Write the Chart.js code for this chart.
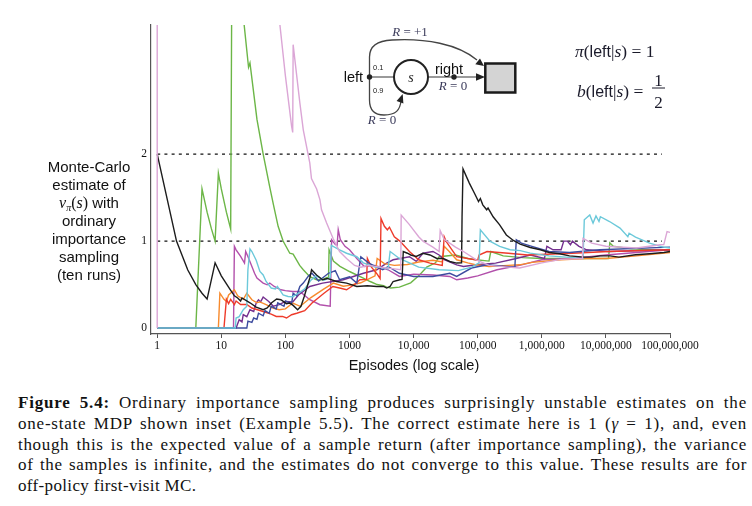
<!DOCTYPE html>
<html>
<head>
<meta charset="utf-8">
<script src="https://cdn.jsdelivr.net/npm/chart.js@4.4.1/dist/chart.umd.min.js"></script>
<style>
  html, body { margin:0; padding:0; background:#fff; }
  body { width:752px; height:506px; position:relative; overflow:hidden; }
  #c { position:absolute; left:0; top:0; }
  #ylabel { position:absolute; left:29px; width:120px; top:158px; text-align:center;
            font-family:"Liberation Sans", Arial, sans-serif; font-size:15px; line-height:18px; color:#111; }
  #ylabel div { height:18px; }
  #xlabel { position:absolute; left:314px; width:200px; top:356px; text-align:center;
            font-family:"Liberation Sans", Arial, sans-serif; font-size:14.5px; line-height:18px; color:#111; }
  .m { font-family:"Liberation Serif", "Times New Roman", serif; font-style:italic; }
  .r { font-family:"Liberation Serif", "Times New Roman", serif; }
  #caption { position:absolute; left:18px; top:393px; width:729px;
             font-family:"Liberation Serif", "Times New Roman", serif; font-size:17px; line-height:20.8px; color:#111; }
  .cl { white-space:nowrap; height:20.8px; }
</style>
</head>
<body>
<canvas id="c" width="752" height="370"></canvas>

<div id="ylabel">
  <div>Monte-Carlo</div>
  <div>estimate of</div>
  <div><span class="m" style="font-size:16px">v</span><span class="m" style="font-size:10px;position:relative;top:3px">π</span><span class="r" style="font-size:16px">(</span><span class="m" style="font-size:16px">s</span><span class="r" style="font-size:16px">)</span> with</div>
  <div>ordinary</div>
  <div>importance</div>
  <div>sampling</div>
  <div>(ten runs)</div>
</div>
<div id="xlabel">Episodes (log scale)</div>

<svg id="inset" width="752" height="370" style="position:absolute;left:0;top:0;pointer-events:none" xmlns="http://www.w3.org/2000/svg">
  <path d="M369.5,77 L369.5,57 Q369.5,41 392,40 C425,38 458,44 477,60" fill="none" stroke="#444" stroke-width="1.3"/>
  <polygon points="484,66 475.3,64.2 480,58.4" fill="#222"/>
  <path d="M369.5,77 L369.5,100 Q369.5,115 384,115 C396,115 400,110 401,101" fill="none" stroke="#444" stroke-width="1.3"/>
  <polygon points="402.7,94 403.4,103.4 396.6,100.9" fill="#222"/>
  <line x1="369.5" y1="77" x2="394" y2="77" stroke="#9a9a9a" stroke-width="2"/>
  <line x1="428" y1="77" x2="477" y2="77" stroke="#9a9a9a" stroke-width="2"/>
  <polygon points="485,77 476,73.3 476,80.7" fill="#222"/>
  <circle cx="369.5" cy="77" r="2.7" fill="#222"/>
  <circle cx="454" cy="77" r="2.7" fill="#222"/>
  <circle cx="411" cy="77" r="17" fill="#fff" stroke="#222" stroke-width="2"/>
  <text x="411" y="81.5" text-anchor="middle" font-family="Liberation Serif" font-style="italic" font-size="14" fill="#222">s</text>
  <rect x="485.3" y="63.5" width="30" height="29" fill="#d4d4d4" stroke="#1a1a1a" stroke-width="2.5"/>
  <text x="363" y="82" text-anchor="end" font-family="Liberation Sans" font-size="14.5" fill="#111">left</text>
  <text x="449" y="73.5" text-anchor="middle" font-family="Liberation Sans" font-size="14.5" fill="#111">right</text>
  <text x="373" y="70" font-family="Liberation Sans" font-size="7.5" fill="#222">0.1</text>
  <text x="373" y="93" font-family="Liberation Sans" font-size="7.5" fill="#222">0.9</text>
  <text x="410" y="36" text-anchor="middle" font-family="Liberation Serif" font-size="13" fill="#3a3a5a"><tspan font-style="italic">R</tspan> = +1</text>
  <text x="453" y="90" text-anchor="middle" font-family="Liberation Serif" font-size="13" fill="#3a3a5a"><tspan font-style="italic">R</tspan> = 0</text>
  <text x="382" y="124" text-anchor="middle" font-family="Liberation Serif" font-size="13" fill="#3a3a5a"><tspan font-style="italic">R</tspan> = 0</text>
  <text x="575" y="57" font-family="Liberation Serif" font-size="17.5" fill="#1a1a2a"><tspan font-style="italic">π</tspan>(<tspan font-family="Liberation Sans" font-size="16">left</tspan>|<tspan font-style="italic">s</tspan>) = 1</text>
  <text x="577" y="97" font-family="Liberation Serif" font-size="17.5" fill="#1a1a2a"><tspan font-style="italic">b</tspan>(<tspan font-family="Liberation Sans" font-size="16">left</tspan>|<tspan font-style="italic">s</tspan>) =</text>
  <text x="658.5" y="85.5" text-anchor="middle" font-family="Liberation Serif" font-size="17" fill="#1a1a2a">1</text>
  <line x1="652" y1="88" x2="665" y2="88" stroke="#1a1a2a" stroke-width="1"/>
  <text x="658.5" y="107.5" text-anchor="middle" font-family="Liberation Serif" font-size="17" fill="#1a1a2a">2</text>
</svg>

<div id="caption">
  <div class="cl j"><span><b>Figure 5.4:</b> Ordinary importance sampling produces surprisingly unstable estimates on the</span></div>
  <div class="cl j"><span>one-state MDP shown inset (Example 5.5). The correct estimate here is 1 (<i>γ</i> = 1), and, even</span></div>
  <div class="cl j"><span>though this is the expected value of a sample return (after importance sampling), the variance</span></div>
  <div class="cl j"><span>of the samples is infinite, and the estimates do not converge to this value. These results are for</span></div>
  <div class="cl"><span>off-policy first-visit MC.</span></div>
</div>

<script>
// ---------- data (episode, estimate) ----------
const xTickValues = [1, 10, 100, 1000, 10000, 100000, 1000000, 10000000, 100000000];
const xTickLabels = ["1", "10", "100", "1000", "10,000", "100,000", "1,000,000", "10,000,000", "100,000,000"];
const yTickValues = [0, 1, 2];
const yTickLabels = ["0", "1", "2"];
const referenceLevels = [1, 2];
const referenceSpan = [1, 75000000];

const black = [[1,2],[2,1],[3,0.667],[4,0.5],[5,0.4],[6,0.333],[8,0.75],[10,0.6],[13.6,0.448],[16,0.37],[18,0.345],[20,0.31],[21,0.345],[28,0.29],[35,0.24],[45,0.21],[52,0.23],[61,0.29],[73,0.333],[85,0.325],[104,0.28],[117,0.287],[132,0.26],[155,0.21],[175,0.25],[196,0.36],[240,0.575],[256,0.67],[306,0.61],[380,0.555],[450,0.57],[630,0.535],[900,0.517],[1300,0.478],[1900,0.486],[2660,0.478],[3380,0.478],[3800,0.46],[4300,0.478],[4790,0.535],[6100,0.555],[6600,0.56],[6900,0.88],[8000,0.86],[9000,0.84],[11000,0.823],[14000,0.86],[18000,0.84],[23000,0.8],[29000,0.8],[36700,0.765],[47000,0.747],[56000,0.75],[57000,1.28],[59000,1.83],[74000,1.667],[89000,1.55],[103000,1.455],[110000,1.49],[120000,1.417],[138000,1.36],[145000,1.38],[174000,1.28],[220000,1.187],[280000,1.07],[360000,1.007],[460000,0.966],[660000,0.926],[950000,0.9],[1300000,0.869],[1900000,0.854],[2700000,0.83],[4600000,0.816],[6000000,0.816],[8100000,0.83],[11500000,0.83],[16000000,0.816],[29000000,0.842],[48000000,0.854],[80000000,0.869],[100000000,0.88]];

const green = [[1,0],[4,0],[5,1.6],[6,1.333],[7,1.143],[8,1.0],[9,1.78],[10,1.6],[12,1.333],[14,1.14],[15,6],[20,4.1],[22.7,3.49],[26.6,3.0],[28,3.05],[36,2.4],[45,2.0],[57,1.62],[65,1.42],[77,1.17],[92,1.0],[117,0.86],[132,0.85],[167,0.72],[190,0.67],[240,0.59],[306,0.555],[380,0.555],[440,0.58],[470,0.57],[480,0.9],[560,0.77],[710,0.71],[1000,0.65],[1640,0.575],[2100,0.535],[2700,0.5],[3400,0.486],[3800,0.47],[4400,0.46],[6000,0.47],[9000,0.52],[12000,0.6],[16000,0.7],[22000,0.75],[25000,0.82],[45000,0.84],[70000,0.8],[95000,0.785],[150000,0.77],[160000,0.88],[250000,0.83],[500000,0.81],[1000000,0.8],[3000000,0.8],[6000000,0.8],[11000000,0.8],[11500000,0.98],[13000000,0.94],[25000000,0.91],[50000000,0.9],[100000000,0.89]];

const pink = [[1,0],[1,290],[40,7.25],[82,3.49],[100,2.9],[125,2.32],[130,2.25],[132,3.26],[168,2.59],[190,2.28],[240,1.9],[255,1.72],[307,1.6],[346,1.475],[366,1.36],[438,1.21],[555,1.03],[700,0.88],[900,0.8],[1200,0.72],[1500,0.7],[2000,0.72],[3000,0.7],[5000,0.68],[6300,0.67],[6400,1.3],[8600,1.19],[12000,1.05],[14000,1.0],[20000,0.93],[25000,0.88],[26000,1.12],[30000,1.02],[45000,0.93],[60000,0.88],[95000,0.785],[150000,0.72],[300000,0.7],[450000,0.69],[1000000,0.75],[2000000,0.79],[4300000,0.8],[4400000,1.03],[6000000,0.977],[10000000,0.94],[30000000,0.92],[70000000,0.957],[80000000,0.96],[90000000,1.11],[100000000,1.1]];

const red = [[1,0],[11,0],[12,0.33],[13,0.28],[14,0.33],[16,0.27],[17,0.31],[20,0.27],[25,0.27],[30,0.23],[45,0.19],[60,0.16],[72,0.133],[90,0.133],[104,0.115],[125,0.153],[150,0.17],[200,0.2],[260,0.287],[400,0.4],[550,0.478],[700,0.46],[900,0.44],[1200,0.5],[1450,0.555],[1850,0.56],[1900,0.8],[2200,0.7],[2700,0.62],[3000,0.57],[3100,1.26],[3500,1.17],[3900,1.13],[4200,1.16],[5000,1.05],[6100,1.0],[6900,0.957],[8600,0.88],[12000,0.785],[18000,0.747],[28000,0.72],[30000,1.05],[32000,1.0],[38000,0.92],[47000,0.82],[70000,0.8],[100000,0.78],[105000,0.84],[140000,0.88],[300000,0.86],[600000,0.84],[3000000,0.86],[11000000,0.88],[100000000,0.9]];

const orange = [[1,0],[9,0],[9.5,0.4],[11,0.33],[12,0.306],[13,0.38],[16,0.44],[18,0.37],[22,0.33],[25,0.4],[30,0.325],[36,0.29],[40,0.3],[50,0.27],[64,0.23],[80,0.21],[100,0.22],[130,0.287],[170,0.25],[250,0.35],[400,0.45],[560,0.517],[800,0.48],[1000,0.49],[1500,0.52],[2500,0.6],[2700,0.8],[3500,0.74],[5000,0.72],[8000,0.73],[12000,0.76],[20000,0.78],[28000,0.76],[30000,0.94],[36000,0.88],[47000,0.785],[70000,0.75],[95000,0.727],[150000,0.708],[300000,0.72],[450000,0.727],[700000,0.755],[2000000,0.785],[5000000,0.8],[10000000,0.8],[30000000,0.83],[100000000,0.869]];

const cyan = [[1,0],[16.5,0],[17,0.115],[19,0.13],[22,0.21],[25,0.25],[26,0.67],[28,0.91],[30,0.88],[35,0.78],[40,0.65],[45,0.61],[50,0.535],[60,0.46],[70,0.45],[75,0.478],[92,0.38],[110,0.363],[130,0.36],[160,0.4],[200,0.45],[250,0.55],[300,0.6],[400,0.55],[500,0.58],[520,0.95],[700,0.9],[900,0.86],[1300,0.82],[1640,0.75],[2500,0.7],[3000,0.7],[4000,0.68],[4300,0.88],[6000,0.8],[8600,0.75],[12000,0.7],[25000,0.67],[50000,0.66],[80000,0.7],[105000,0.75],[110000,1.13],[155000,1.0],[220000,0.94],[320000,0.9],[460000,0.89],[660000,0.862],[1300000,0.83],[2400000,0.816],[4400000,0.8],[4600000,1.245],[5600000,1.3],[6300000,1.207],[7000000,1.29],[7800000,1.225],[8200000,1.28],[11400000,1.225],[16600000,1.15],[22000000,1.05],[23000000,1.09],[29000000,1.046],[48000000,0.977],[79000000,0.93],[100000000,0.92]];

const blue = [[1,0],[25,0],[26,0.08],[30,0.065],[32,0.115],[36,0.1],[38,0.17],[45,0.14],[48,0.2],[56,0.17],[60,0.25],[72,0.22],[76,0.29],[95,0.25],[100,0.31],[125,0.28],[132,0.4],[150,0.37],[168,0.478],[190,0.517],[230,0.6],[260,0.63],[330,0.54],[470,0.63],[600,0.66],[700,0.555],[1000,0.59],[1300,0.517],[1500,0.82],[2000,0.747],[3300,0.67],[4000,0.708],[6000,0.63],[10000,0.593],[20000,0.593],[36700,0.63],[47000,0.593],[80000,0.69],[140000,0.727],[380000,0.7],[400000,1.015],[480000,0.977],[700000,0.94],[1300000,0.88],[2700000,0.869],[8000000,0.9],[100000000,0.93]];

const purple = [[1,0],[17,0],[19,0.095],[21,0.07],[22,0.153],[25,0.13],[28,0.21],[32,0.19],[35,0.287],[38,0.325],[41,0.3],[45,0.356],[55,0.306],[65,0.25],[80,0.268],[100,0.306],[130,0.3],[160,0.38],[240,0.478],[380,0.517],[800,0.555],[1650,0.63],[2660,0.67],[3800,0.747],[4800,0.785],[8600,0.82],[11000,0.766],[14000,0.86],[20000,0.88],[25000,0.84],[30000,0.785],[47000,0.727],[60000,0.708],[95000,0.727],[190000,0.747],[400000,0.8],[660000,0.84],[1100000,0.8],[1200000,0.94],[1500000,0.9],[2000000,0.9],[2200000,1.0],[2500000,1.0],[2800000,0.957],[3000000,1.0],[3800000,0.94],[5000000,0.9],[11000000,0.88],[100000000,0.9]];

const magenta = [[1,0],[15.5,0],[16,0.94],[17,0.9],[20,0.823],[23,0.747],[24,0.88],[26,0.823],[30,0.708],[33,0.63],[36,0.575],[45,0.517],[52,0.497],[57,0.517],[67,0.478],[85,0.44],[100,0.43],[130,0.42],[168,0.42],[240,0.325],[346,0.268],[500,0.25],[526,1.015],[600,0.96],[640,0.95],[667,1.13],[720,1.015],[850,0.94],[1000,0.9],[1300,0.8],[1700,0.708],[2500,0.72],[4000,0.67],[6000,0.593],[10000,0.62],[20000,0.61],[36700,0.593],[47000,0.555],[70000,0.575],[100000,0.6],[200000,0.67],[450000,0.72],[1000000,0.785],[3000000,0.8],[10000000,0.84],[100000000,0.9]];

// ---------- chart ----------
const runs = [
  { name: 'run 9', data: pink,    color: '#dba6d6' },
  { name: 'run 1', data: black,   color: '#1c1c1c' },
  { name: 'run 2', data: cyan,    color: '#6cc9da' },
  { name: 'run 3', data: blue,    color: '#3d4c9f' },
  { name: 'run 4', data: red,     color: '#ee3b2b' },
  { name: 'run 5', data: orange,  color: '#f78a2d' },
  { name: 'run 6', data: purple,  color: '#74308f' },
  { name: 'run 7', data: magenta, color: '#b250ab' },
  { name: 'run 8', data: green,   color: '#6cb647' }
];

const toPts = arr => arr.map(([x, y]) => ({ x, y }));
const datasets = runs.map(r => ({
  label: r.name, data: toPts(r.data), borderColor: r.color, backgroundColor: r.color,
  borderWidth: 1.4, pointRadius: 0, showLine: true, fill: false, tension: 0
}));
referenceLevels.forEach(level => {
  datasets.push({
    label: 'ref ' + level,
    data: referenceSpan.map(x => ({ x, y: level })),
    borderColor: '#111', borderWidth: 1.1, borderDash: [3, 4.2],
    pointRadius: 0, showLine: true, fill: false
  });
});

new Chart(document.getElementById('c'), {
  type: 'scatter',
  data: { datasets },
  options: {
    responsive: false, devicePixelRatio: 1, animation: false,
    layout: { padding: { top: 25, right: 82, bottom: 0, left: 0 } },
    plugins: { legend: { display: false }, tooltip: { enabled: false } },
    scales: {
      x: {
        type: 'logarithmic', min: 0.8, max: 100000000,
        afterBuildTicks: s => { s.ticks = xTickValues.map(v => ({ value: v })); },
        afterFit: s => { s.height = 36; },
        ticks: {
          autoSkip: false, maxRotation: 0, minRotation: 0, padding: 1,
          color: '#111', font: { family: 'Liberation Serif', size: 11.5 },
          callback: v => { const i = xTickValues.indexOf(v); return i >= 0 ? xTickLabels[i] : ''; }
        },
        grid: { display: true, drawOnChartArea: false, drawTicks: true, tickLength: 4, color: '#555', lineWidth: 1 },
        border: { display: true, color: '#555', width: 1.2 }
      },
      y: {
        type: 'linear', min: -0.069, max: 3.486,
        afterBuildTicks: s => { s.ticks = yTickValues.map(v => ({ value: v })); },
        afterFit: s => { s.width = 151; },
        ticks: {
          padding: 4, color: '#111', font: { family: 'Liberation Serif', size: 11.5 },
          callback: v => { const i = yTickValues.indexOf(v); return i >= 0 ? yTickLabels[i] : ''; }
        },
        grid: { display: true, drawOnChartArea: false, drawTicks: false },
        border: { display: true, color: '#555', width: 1.2 }
      }
    }
  }
});

// ---------- justify caption lines (widen letters a little, then spaces) ----------
document.querySelectorAll('#caption .cl').forEach(line => {
  const span = line.querySelector('span');
  const text = span.textContent;
  const chars = text.length;
  span.style.letterSpacing = '0.35px';
  if (!line.classList.contains('j')) return;
  let w = span.getBoundingClientRect().width;
  let extra = 729 - w;
  if (extra > 0) {
    const ls = 0.35 + Math.min(extra * 0.5 / chars, 0.5);
    span.style.letterSpacing = ls + 'px';
    w = span.getBoundingClientRect().width;
    extra = 729 - w;
  }
  const spaces = (text.match(/ /g) || []).length;
  if (spaces > 0) span.style.wordSpacing = (extra / spaces) + 'px';
});
</script>
</body>
</html>
